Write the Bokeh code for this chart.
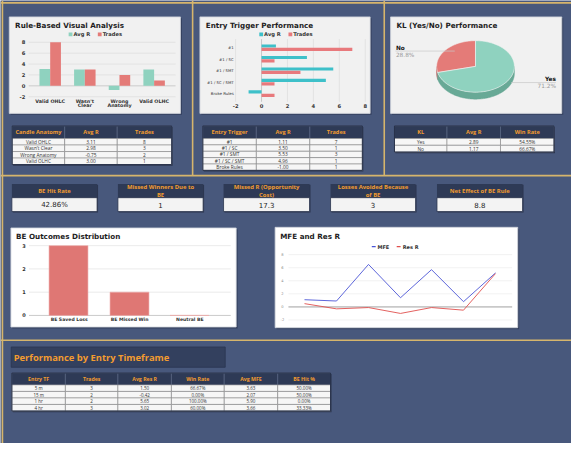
import numpy as np
from bokeh.plotting import figure
from bokeh.models import Range1d
from bokeh.core.properties import value
from bokeh.embed import file_html
from bokeh.resources import INLINE

# ---------------- data ----------------
anatomy_cats = ["Valid OHLC", "Wasn't Clear", "Wrong Anatomy", "Valid OLHC"]
anatomy_axis_labels = ["Valid OHLC", "Wasn't\nClear", "Wrong\nAnatomy", "Valid OLHC"]
anatomy_avg_r = [3.11, 2.98, -0.75, 3.00]
anatomy_trades = [8, 3, 2, 1]

trigger_cats = ["#1", "#1 / SC", "#1 / SMT", "#1 / SC / SMT", "Broke Rules"]
trigger_avg_r = [1.11, 3.50, 5.53, 4.96, -1.00]
trigger_trades = [7, 1, 3, 1, 1]

kl_cats = ["Yes", "No"]
kl_share = [71.2, 28.8]
kl_avg_r = [2.89, 1.17]
kl_win_rate = [54.55, 66.67]

kpi_titles = ["BE Hit Rate", "Missed Winners Due to\nBE", "Missed R (Opportunity\nCost)",
              "Losses Avoided Because\nof BE", "Net Effect of BE Rule"]
kpi_values = ["42.86%", "1", "17.3", "3", "8.8"]

be_cats = ["BE Saved Loss", "BE Missed Win", "Neutral BE"]
be_counts = [3, 1, 0]

mfe_values = [1.1, 0.9, 6.5, 1.4, 5.7, 0.8, 5.2]
res_r_values = [0.5, -0.3, -0.1, -1.0, -0.1, -0.5, 5.1]

tf_cats = ["5 m", "15 m", "1 hr", "4 hr"]
tf_trades = [3, 2, 2, 3]
tf_avg_res_r = [1.50, -0.42, 5.65, 3.02]
tf_win_rate = [66.67, 0.00, 100.00, 60.00]
tf_avg_mfe = [3.63, 2.07, 5.90, 3.66]
tf_be_hit = [50.00, 50.00, 0.00, 33.33]

# ---------------- style ----------------
NAVY = "#48587c"
GOLD = "#d6b56c"
HDR = "#2e3a56"
ORANGE = "#f39c2f"
PANEL = "#f1f1f1"
TEAL1 = "#8fd2bf"
RED1 = "#e47b78"
TEAL2 = "#3ec0c9"
RED2 = "#e8797c"
CF = "DejaVu Sans"
HF = "Open Sans"

W, H = 587, 459
p = figure(width=571, height=443, x_range=Range1d(0, W), y_range=Range1d(H, 0),
           output_backend="svg", toolbar_location=None, min_border=0,
           x_axis_type=None, y_axis_type=None,
           background_fill_color=NAVY, border_fill_color=NAVY, outline_line_color=None)


def txt(tgt, x, y, s, size, color="#222222", bold=False, align="left", baseline="middle",
        font=CF, lh=1.0):
    tgt.text(x=list(x), y=list(y), text=list(s), text_font=value(font),
             text_font_size=value(f"{size}px"), text_color=color,
             text_font_style="bold" if bold else "normal", text_align=align,
             text_baseline=baseline, text_line_height=lh)


def panel(l, r, t, b, fill):
    p.quad(left=[l + 1.5], right=[r + 1.5], top=[t + 1.5], bottom=[b + 1.5],
           fill_color="#34415f", line_color=None)
    p.quad(left=[l], right=[r], top=[t], bottom=[b], fill_color=fill,
           line_color="#cfd3da", line_width=0.8)


def table(xe, top, hh, rh, headers, rows, hsize=5.6, bsize=4.8):
    n = len(headers)
    bottom = top + hh + rh * len(rows)
    p.quad(left=[xe[0] + 1], right=[xe[-1] + 1], top=[top + 1], bottom=[bottom + 1.2],
           fill_color="#2c3650", line_color=None)
    p.quad(left=xe[:-1], right=xe[1:], top=[top] * n, bottom=[top + hh] * n,
           fill_color=HDR, line_color="#5d6a86", line_width=0.7)
    for i in range(len(rows)):
        y0 = top + hh + i * rh
        p.quad(left=xe[:-1], right=xe[1:], top=[y0] * n, bottom=[y0 + rh] * n,
               fill_color="#f6f6f6", line_color="#8c8c8c", line_width=0.6)
    p.quad(left=[xe[0]], right=[xe[-1]], top=[top], bottom=[bottom], fill_color=None,
           line_color="#27314a", line_width=1.0)
    cx = [(xe[j] + xe[j + 1]) / 2 for j in range(n)]
    txt(p, cx, [top + hh / 2] * n, headers, hsize, ORANGE, True, "center", font=HF)
    for i, row in enumerate(rows):
        txt(p, cx, [top + hh + (i + 0.5) * rh] * n, row, bsize, "#333333", False, "center", font=HF)


# ---------------- separators ----------------
p.segment(x0=[0, 2, 197.5, 394.5, 0, 0], y0=[2.5, 0, 0, 0, 181.5, 352],
          x1=[W, 2, 197.5, 394.5, W, W], y1=[2.5, H, 181.5, 181.5, 181.5, 352],
          line_color=GOLD, line_width=1.6)

# ---------------- chart 1: Rule-Based Visual Analysis ----------------
panel(9, 185, 17, 117, PANEL)
txt(p, [15], [25.5], ["Rule-Based Visual Analysis"], 7.2, "#1e1e1e", True)
p.scatter(x=[72, 102], y=[35, 35], marker="square", size=3.8, fill_color=[TEAL1, RED1], line_color=None)
txt(p, [75, 105], [35, 35], ["Avg R", "Trades"], 5.2, "#333333", True)
c1 = p.subplot(x_source=Range1d(-0.62, 3.62), y_source=Range1d(-2, 8),
               x_target=Range1d(29, 180), y_target=Range1d(99.7, 43.3))
ticks1 = [-2, 0, 2, 4, 6, 8]
c1.segment(x0=[-0.62] * 6, x1=[3.62] * 6, y0=ticks1, y1=ticks1,
           line_color=["#c4c4c4" if t == 0 else "#dedede" for t in ticks1], line_width=0.8)
txt(c1, [-0.72] * 6, ticks1, [str(t) for t in ticks1], 5.2, "#333333", True, "right")
idx1 = np.arange(len(anatomy_cats))
c1.vbar(x=idx1 - 0.155, width=0.31, top=anatomy_avg_r, bottom=0, fill_color=TEAL1, line_color=None)
c1.vbar(x=idx1 + 0.155, width=0.31, top=anatomy_trades, bottom=0, fill_color=RED1, line_color=None)
txt(c1, idx1, [-2.4] * 4, anatomy_axis_labels, 4.8, "#333333", True, "center", "top", lh=0.9)

table([12, 66, 120, 176], 130, 13, 6.75, ["Candle Anatomy", "Avg R", "Trades"],
      [[c, f"{a:.2f}", str(t)] for c, a, t in zip(anatomy_cats, anatomy_avg_r, anatomy_trades)])

# ---------------- chart 2: Entry Trigger Performance ----------------
panel(205, 380, 17, 117, PANEL)
txt(p, [211], [25.5], ["Entry Trigger Performance"], 7.2, "#1e1e1e", True)
p.scatter(x=[268, 298], y=[35, 35], marker="square", size=3.8, fill_color=[TEAL2, RED2], line_color=None)
txt(p, [271, 301], [35, 35], ["Avg R", "Trades"], 5.2, "#333333", True)
c2 = p.subplot(x_source=Range1d(-2, 8), y_source=Range1d(-0.75, 4.75),
               x_target=Range1d(241.7, 375), y_target=Range1d(40, 105.5))
ticks2 = [-2, 0, 2, 4, 6, 8]
c2.segment(x0=ticks2, x1=ticks2, y0=[-0.75] * 6, y1=[4.7] * 6,
           line_color=["#bdbdbd" if t == 0 else "#dedede" for t in ticks2], line_width=0.8)
txt(c2, ticks2, [5.07] * 6, [str(t) for t in ticks2], 5.2, "#333333", True, "center")
idx2 = np.arange(len(trigger_cats))
c2.hbar(y=idx2 - 0.15, height=0.28, left=0, right=trigger_avg_r, fill_color=TEAL2, line_color=None)
c2.hbar(y=idx2 + 0.15, height=0.28, left=0, right=trigger_trades, fill_color=RED2, line_color=None)
txt(c2, [-2.15] * 5, idx2, trigger_cats, 3.9, "#333333", False, "right")

table([208, 263, 318, 372], 130, 13, 6.6, ["Entry Trigger", "Avg R", "Trades"],
      [[c, f"{a:.2f}", str(t)] for c, a, t in zip(trigger_cats, trigger_avg_r, trigger_trades)])

# ---------------- chart 3: KL pie ----------------
panel(401, 577, 17, 117, PANEL)
txt(p, [407], [25.5], ["KL (Yes/No) Performance"], 7.2, "#1e1e1e", True)
pie = p.subplot(x_source=Range1d(-1, 1), y_source=Range1d(-1, 1),
                x_target=Range1d(448.3, 528.3), y_target=Range1d(95.0, 41.6))
share = np.array(kl_share, dtype=float)
frac = share / share.sum()
top_cols = {"Yes": TEAL1, "No": RED1}
side_cols = {"Yes": "#68a996", "No": "#b35d5a"}
depth = 0.27
start = np.pi / 2
slices = []
for k in [1, 0]:  # "No" starts at 12 o'clock, counter-clockwise
    a1 = start + frac[k] * 2 * np.pi
    slices.append((kl_cats[k], start, a1))
    start = a1
for name, a0, a1 in slices:
    th = np.linspace(a0, a1, 240)
    m = np.sin(th) <= 1e-9
    if m.any():
        tm = th[m]
        xs = list(np.cos(tm)) + list(np.cos(tm[::-1]))
        ys = list(np.sin(tm)) + list(np.sin(tm[::-1]) - depth)
        pie.patch(x=xs, y=ys, fill_color=side_cols[name], line_color=side_cols[name], line_width=0.5)
for name, a0, a1 in slices:
    th = np.linspace(a0, a1, 120)
    pie.patch(x=[0] + list(np.cos(th)), y=[0] + list(np.sin(th)),
              fill_color=top_cols[name], line_color="#f4f4f4", line_width=0.6)
p.segment(x0=[406, 525], x1=[467, 571], y0=[52.4, 85], y1=[52.4, 85], line_color="#c8c8c8", line_width=0.7)
pct = {c: f"{s:.1f}%" for c, s in zip(kl_cats, kl_share)}
txt(p, [406.5], [49], ["No"], 5.8, "#111111", True)
txt(p, [406.5], [56], [pct["No"]], 5.8, "#9a9a9a")
txt(p, [571], [81.5], ["Yes"], 5.8, "#111111", True, "right")
txt(p, [571], [88.5], [pct["Yes"]], 5.8, "#9a9a9a", False, "right")

table([405, 459, 514, 569], 130, 13, 7, ["KL", "Avg R", "Win Rate"],
      [[c, f"{a:.2f}", f"{w:.2f}%"] for c, a, w in zip(kl_cats, kl_avg_r, kl_win_rate)])

# ---------------- KPI boxes ----------------
kx = [(11.7, 99.3), (120.7, 208.3), (229.3, 317.7), (339.3, 426.7), (448.7, 536.7)]
for (l, r), t, v in zip(kx, kpi_titles, kpi_values):
    p.quad(left=[l + 1], right=[r + 1], top=[191], bottom=[219.7], fill_color="#2c3650", line_color=None)
    p.quad(left=[l], right=[r], top=[190], bottom=[204.3], fill_color=HDR, line_color=None)
    p.quad(left=[l], right=[r], top=[204.3], bottom=[218.7], fill_color="#f3f3f3",
           line_color="#2a344d", line_width=0.8)
    txt(p, [(l + r) / 2], [197.3], [t], 5.9, ORANGE, True, "center", font=HF, lh=1.05)
    txt(p, [(l + r) / 2], [211.6], [v], 7.0, "#1e1e1e", False, "center")

# ---------------- BE Outcomes Distribution ----------------
panel(10.7, 242.3, 235.7, 338.3, "#ffffff")
txt(p, [16], [245], ["BE Outcomes Distribution"], 7.2, "#1e1e1e", True)
c4 = p.subplot(x_source=Range1d(-0.667, 2.678), y_source=Range1d(0, 3),
               x_target=Range1d(29.3, 236.7), y_target=Range1d(326.3, 254))
ticks4 = [0, 1, 2, 3]
c4.segment(x0=[-0.667] * 4, x1=[2.678] * 4, y0=ticks4, y1=ticks4,
           line_color=["#bdbdbd" if t == 0 else "#e6e6e6" for t in ticks4], line_width=0.8)
txt(c4, [-0.72] * 4, ticks4, [str(t) for t in ticks4], 5.0, "#333333", True, "right")
idx4 = np.arange(len(be_cats))
c4.vbar(x=idx4, width=0.645, top=be_counts, bottom=0, fill_color="#df7774",
        line_color="#eeaaa8", line_width=0.6)
txt(c4, idx4, [-0.19] * 3, be_cats, 4.6, "#333333", True, "center")

# ---------------- MFE and Res R ----------------
panel(282.3, 531.7, 235, 339, "#ffffff")
txt(p, [287.5], [245], ["MFE and Res R"], 7.2, "#1e1e1e", True)
p.segment(x0=[381.7, 407.3], x1=[385.7, 411.3], y0=[255, 255], y1=[255, 255],
          line_color=["#4b55d6", "#e0504e"], line_width=1.4)
txt(p, [387.5, 413.5], [255, 255], ["MFE", "Res R"], 5.0, "#333333", True)
c5 = p.subplot(x_source=Range1d(-0.53, 6.51), y_source=Range1d(-2, 8),
               x_target=Range1d(296, 526), y_target=Range1d(331, 263.3))
ticks5 = [-2, 0, 2, 4, 6, 8]
c5.segment(x0=[-0.53] * 6, x1=[6.51] * 6, y0=ticks5, y1=ticks5,
           line_color=["#c9c9c9" if t == 0 else "#ececec" for t in ticks5],
           line_width=[1.6 if t == 0 else 0.7 for t in ticks5])
txt(c5, [-0.72] * 6, ticks5, [str(t) for t in ticks5], 3.6, "#8a8a8a", False, "center")
xi = np.arange(len(mfe_values))
c5.line(x=xi, y=mfe_values, line_color="#4b55d6", line_width=0.9)
c5.line(x=xi, y=res_r_values, line_color="#e0504e", line_width=0.9)

# ---------------- Performance by Entry Timeframe ----------------
p.quad(left=[11], right=[231], top=[359], bottom=[380], fill_color="#33405e", line_color="#2a3550", line_width=0.8)
txt(p, [13.5], [369.8], ["Performance by Entry Timeframe"], 9.4, ORANGE, True, font=HF)
table([11.7, 66.7, 120.7, 175.7, 230, 285, 339.3], 386, 12.3, 6.75,
      ["Entry TF", "Trades", "Avg Res R", "Win Rate", "Avg MFE", "BE Hit %"],
      [[c, str(t), f"{a:.2f}", f"{w:.2f}%", f"{m:.2f}", f"{b:.2f}%"]
       for c, t, a, w, m, b in zip(tf_cats, tf_trades, tf_avg_res_r, tf_win_rate, tf_avg_mfe, tf_be_hit)],
      hsize=5.2, bsize=4.5)

open("out.html", "w").write(file_html(p, INLINE))
